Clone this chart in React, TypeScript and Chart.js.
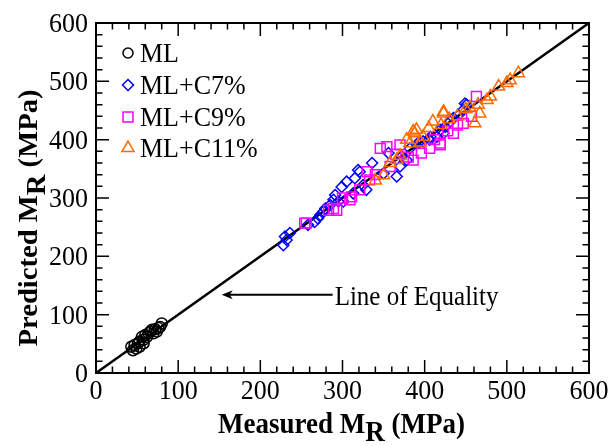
import React, { useEffect, useRef } from "react";
import { Chart, registerables } from "chart.js";

Chart.register(...registerables);

const AXIS_TICKS = [0, 100, 200, 300, 400, 500, 600];

const ML: [number, number][] = [
  [43, 45], [47, 48], [45, 39], [51, 51], [53, 54], [58, 57], [56, 62], [60, 65],
  [64, 68], [66, 71], [68, 74], [72, 75], [70, 68], [76, 77], [78, 79], [80, 85],
  [49, 42], [62, 62], [53, 45], [58, 51], [74, 71],
];

const C7: [number, number][] = [
  [228, 219], [230, 234], [232, 228], [236, 240], [258, 254], [266, 259], [270, 265],
  [273, 271], [277, 277], [279, 282], [285, 288], [289, 297], [291, 305], [295, 294],
  [299, 319], [301, 294], [305, 328], [313, 308], [315, 334], [319, 348], [321, 345],
  [325, 322], [329, 314], [336, 360], [350, 342], [356, 377], [366, 337], [370, 354],
  [372, 371], [378, 365], [382, 385], [392, 394], [394, 397], [398, 397], [406, 400],
  [407, 405], [415, 405], [419, 417], [423, 411], [425, 422], [431, 431], [435, 437],
  [441, 442], [447, 451], [449, 462], [451, 460],
];

const C9: [number, number][] = [
  [254, 257], [256, 257], [283, 279], [289, 282], [293, 279], [309, 297], [311, 302],
  [321, 314], [333, 331], [346, 385], [354, 388], [358, 354], [370, 391], [386, 365],
  [396, 377], [406, 385], [419, 391], [419, 394], [435, 411], [447, 428], [457, 440],
  [463, 474], [380, 370], [340, 340], [365, 375], [428, 415], [440, 425], [412, 400],
  [300, 300], [330, 345],
];

const C11: [number, number][] = [
  [340, 330], [350, 339], [358, 360], [366, 365], [378, 400], [382, 394], [386, 414],
  [388, 411], [390, 417], [398, 405], [410, 431], [420, 425], [423, 448], [423, 445],
  [430, 435], [440, 440], [450, 452], [461, 428], [465, 460], [467, 445], [476, 468],
  [480, 474], [490, 491], [500, 497], [504, 502], [514, 514], [405, 420], [370, 372],
  [395, 395], [455, 455],
];

const EQUALITY: [number, number][] = [[0, 0], [600, 600]];

const SERIES = [
  { label: "ML", data: ML, color: "#000000", style: "circle", r: 5.5 },
  { label: "ML+C7%", data: C7, color: "#0000ff", style: "rectRot", r: 5.5 },
  { label: "ML+C9%", data: C9, color: "#ff00ff", style: "rect", r: 7 },
  { label: "ML+C11%", data: C11, color: "#ff6a00", style: "triangle", r: 7 },
];

const FONT = '"Liberation Serif", "Times New Roman", serif';
const SY = 1.08;

function drawText(
  ctx: CanvasRenderingContext2D, s: string, x: number, y: number,
  size: number, bold: boolean, align: CanvasTextAlign, baseline: CanvasTextBaseline,
  sx = 1, sy = SY
) {
  ctx.save();
  ctx.translate(x, y);
  ctx.scale(sx, sy);
  ctx.font = `${bold ? "bold " : ""}${size}px ${FONT}`;
  ctx.textAlign = align;
  ctx.textBaseline = baseline;
  ctx.fillStyle = "#000";
  ctx.fillText(s, 0, 0);
  ctx.restore();
}

function drawSymbol(ctx: CanvasRenderingContext2D, style: string, x: number, y: number, r: number, color: string) {
  ctx.save();
  ctx.strokeStyle = color;
  ctx.lineWidth = 1.5;
  ctx.beginPath();
  if (style === "circle") {
    ctx.arc(x, y, r, 0, Math.PI * 2);
  } else if (style === "rectRot") {
    ctx.moveTo(x, y - r); ctx.lineTo(x + r, y); ctx.lineTo(x, y + r); ctx.lineTo(x - r, y); ctx.closePath();
  } else if (style === "rect") {
    const h = r * Math.SQRT1_2;
    ctx.rect(x - h, y - h, 2 * h, 2 * h);
  } else {
    const a = r * Math.sqrt(3) / 2;
    ctx.moveTo(x, y - r); ctx.lineTo(x + a, y + r / 2); ctx.lineTo(x - a, y + r / 2); ctx.closePath();
  }
  ctx.stroke();
  ctx.restore();
}

function titleParts(ctx: CanvasRenderingContext2D, size: number, pre: string, sub: string, post: string) {
  ctx.font = `bold ${size}px ${FONT}`;
  const w1 = ctx.measureText(pre).width;
  const w2 = ctx.measureText(sub).width;
  const w3 = ctx.measureText(post).width;
  return { w1, w2, w3, total: w1 + w2 + w3 };
}

const TICK_SIZE = 26;
const TITLE_SIZE = 27;
const LEGEND_SIZE = 26;

const framePlugin = {
  id: "framePlugin",
  afterDraw(chart: any) {
    const ctx: CanvasRenderingContext2D = chart.ctx;
    const { left, right, top, bottom } = chart.chartArea;
    const xs = chart.scales.x;
    const ys = chart.scales.y;
    ctx.save();
    ctx.strokeStyle = "#000";
    ctx.lineWidth = 1.5;
    for (let v = 0; v <= 600; v += 20) {
      const major = v % 100 === 0;
      const len = major ? 13 : 6.5;
      const px = xs.getPixelForValue(v);
      const py = ys.getPixelForValue(v);
      ctx.beginPath();
      ctx.moveTo(px, bottom); ctx.lineTo(px, bottom - len);
      ctx.moveTo(px, top); ctx.lineTo(px, top + len);
      ctx.moveTo(left, py); ctx.lineTo(left + len, py);
      ctx.moveTo(right, py); ctx.lineTo(right - len, py);
      ctx.stroke();
    }
    ctx.lineWidth = 2;
    ctx.strokeRect(left, top, right - left, bottom - top);

    for (const v of AXIS_TICKS) {
      drawText(ctx, String(v), xs.getPixelForValue(v), bottom + 26, TICK_SIZE, false, "center", "alphabetic");
      drawText(ctx, String(v), left - 8, ys.getPixelForValue(v) + 9, TICK_SIZE, false, "right", "alphabetic");
    }

    // x title
    {
      const p = titleParts(ctx, TITLE_SIZE, "Measured M", "R", " (MPa)");
      const cx = (left + right) / 2 - 1;
      let x = cx - p.total / 2;
      const base = 433;
      drawText(ctx, "Measured M", x, base, TITLE_SIZE, true, "left", "alphabetic");
      x += p.w1;
      drawText(ctx, "R", x, base + 8, TITLE_SIZE, true, "left", "alphabetic");
      x += p.w2;
      drawText(ctx, " (MPa)", x, base, TITLE_SIZE, true, "left", "alphabetic");
    }
    // y title (stretched along its length like the reference)
    {
      const st = 1.06;
      const p = titleParts(ctx, TITLE_SIZE, "Predicted M", "R", " (MPa)");
      ctx.save();
      ctx.translate(37, 218);
      ctx.rotate(-Math.PI / 2);
      let x = (-p.total * st) / 2;
      drawText(ctx, "Predicted M", x, 0, TITLE_SIZE, true, "left", "alphabetic", st, 1);
      x += p.w1 * st;
      drawText(ctx, "R", x, 8, TITLE_SIZE, true, "left", "alphabetic", st, 1);
      x += p.w2 * st;
      drawText(ctx, " (MPa)", x, 0, TITLE_SIZE, true, "left", "alphabetic", st, 1);
      ctx.restore();
    }

    // legend
    const rows = [53, 85, 117, 148];
    SERIES.forEach((s, i) => {
      const sr = s.style === "circle" ? 5 : s.style === "rectRot" ? 5.5 : 7;
      drawSymbol(ctx, s.style, 128, rows[i], sr, s.color);
      drawText(ctx, s.label, 140, rows[i] + 9, LEGEND_SIZE, false, "left", "alphabetic");
    });

    // annotation
    {
      const y = ys.getPixelForValue(134);
      const x0 = xs.getPixelForValue(153);
      const x1 = xs.getPixelForValue(288);
      ctx.lineWidth = 2;
      ctx.beginPath();
      ctx.moveTo(x0 + 6, y); ctx.lineTo(x1, y);
      ctx.stroke();
      ctx.fillStyle = "#000";
      ctx.beginPath();
      ctx.moveTo(x0, y); ctx.lineTo(x0 + 11, y - 4.5); ctx.lineTo(x0 + 8, y); ctx.lineTo(x0 + 11, y + 4.5); ctx.closePath();
      ctx.fill();
      drawText(ctx, "Line of Equality", x1 + 2, y + 10, 25, false, "left", "alphabetic");
    }
    ctx.restore();
  },
};

export default function App() {
  const ref = useRef<HTMLCanvasElement | null>(null);
  useEffect(() => {
    if (!ref.current) return;
    const datasets: any[] = [
      {
        type: "line",
        label: "Line of Equality",
        data: EQUALITY.map(([x, y]) => ({ x, y })),
        borderColor: "#000",
        borderWidth: 2.5,
        pointRadius: 0,
        showLine: true,
        fill: false,
        order: 10,
      },
      ...SERIES.slice().reverse().map((s) => ({
        type: "scatter",
        label: s.label,
        data: s.data.map(([x, y]) => ({ x, y })),
        borderColor: s.color,
        backgroundColor: "rgba(0,0,0,0)",
        pointStyle: s.style,
        pointRadius: s.r,
        pointBorderWidth: 1.5,
        order: 1,
      })),
    ];
    const chart = new Chart(ref.current, {
      type: "scatter",
      data: { datasets },
      options: {
        animation: false,
        responsive: false,
        devicePixelRatio: 1,
        layout: { padding: { top: 23, right: 23, left: 0, bottom: 0 } },
        plugins: { legend: { display: false }, tooltip: { enabled: false } },
        scales: {
          x: {
            type: "linear", min: 0, max: 600,
            ticks: { display: false, stepSize: 100 },
            grid: { display: false },
            border: { display: false },
            afterFit: (s: any) => { s.height = 73; },
          },
          y: {
            type: "linear", min: 0, max: 600,
            ticks: { display: false, stepSize: 100 },
            grid: { display: false },
            border: { display: false },
            afterFit: (s: any) => { s.width = 96; },
          },
        },
      } as any,
      plugins: [framePlugin],
    });
    return () => chart.destroy();
  }, []);
  return (
    <div style={{ position: "absolute", left: 0, top: 0, width: 612, height: 446, background: "#fff" }}>
      <canvas ref={ref} width={612} height={446} style={{ display: "block" }} />
    </div>
  );
}
